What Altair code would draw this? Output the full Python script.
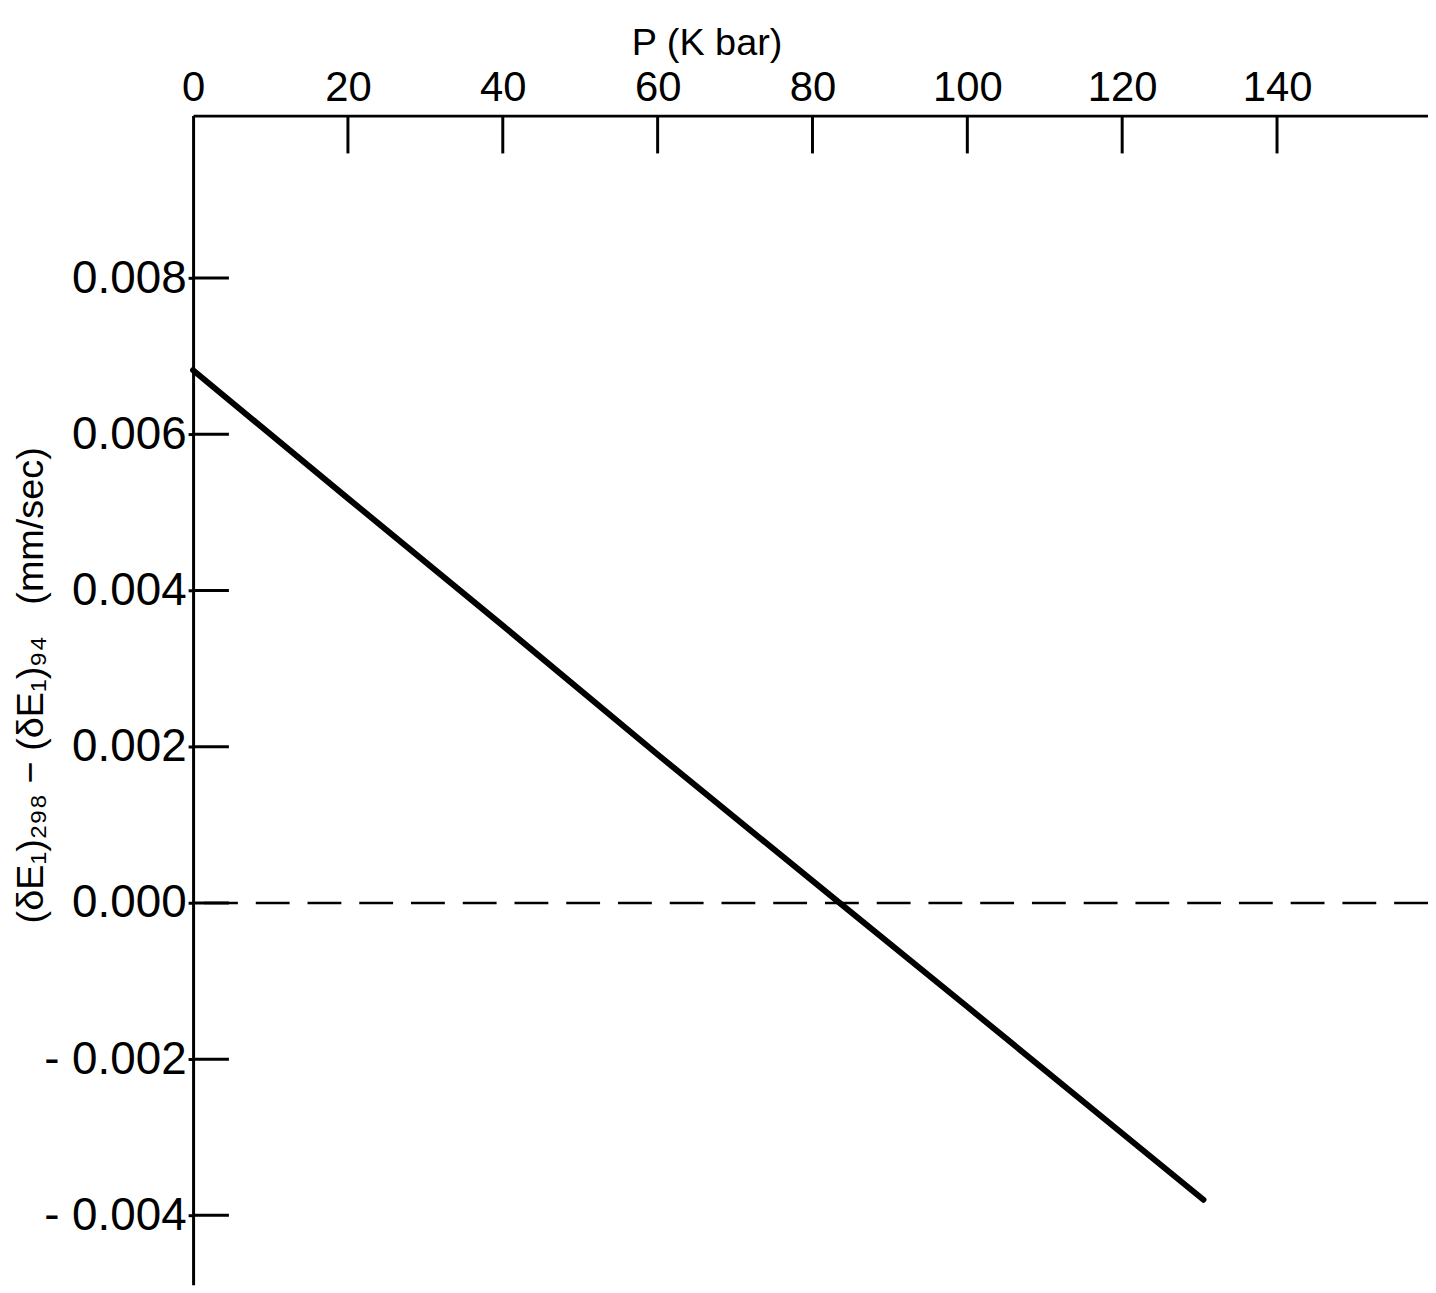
import altair as alt
import pandas as pd

# ---- data ----
pressure = [0, 20, 40, 60, 83.5, 100, 130.5]          # P (K bar)
delta = [0.00682, 0.00518, 0.00355, 0.00190, 0.0, -0.00133, -0.00380]  # mm/sec
x_ticks = [0, 20, 40, 60, 80, 100, 120, 140]
x_inner_ticks = [20, 40, 60, 80, 100, 120, 140]
y_ticks = [-0.004, -0.002, 0.0, 0.002, 0.004, 0.006, 0.008]
zero_ref = [0.0]

W, H = 1241, 1175
FONT = "Liberation Sans"

xscale = alt.Scale(domain=[0, 159.5], nice=False, zero=False)
yscale = alt.Scale(domain=[-0.00489, 0.01008], nice=False, zero=False)

line_df = pd.DataFrame({"P": pressure, "d": delta})

x_axis = alt.Axis(
    orient="top", values=x_ticks, tickSize=0, labelPadding=6,
    labelFontSize=42, labelFont=FONT, labelColor="black", labelFlush=False,
    domainColor="black", domainWidth=3, grid=False,
    title="P (K bar)", titleFont=FONT, titleFontSize=38, titleFontWeight="normal",
    titleColor="black", titleX=516, titleY=-72, titleBaseline="middle",
    titleAlign="center", labelOverlap=False,
)
y_axis = alt.Axis(
    orient="left", values=y_ticks, tickSize=5, tickWidth=3, tickColor="black",
    labelPadding=2, labelFontSize=46, labelFont=FONT, labelColor="black",
    labelExpr="datum.value < -1e-9 ? '- ' + format(-datum.value, '.3f') : format(datum.value, '.3f')",
    domainColor="black", domainWidth=3, grid=False, labelOverlap=False,
    labelFlush=False,
    title="(δE₁)₂₉₈ − (δE₁)₉₄\u00a0\u00a0\u00a0(mm/sec)", titleFont=FONT, titleFontSize=38,
    titleFontWeight="normal", titleColor="black", titleAngle=270,
    titleX=-162, titleY=572, titleAlign="center", titleBaseline="middle",
)

line = alt.Chart(line_df).mark_line(color="black", strokeWidth=6, strokeCap="round").encode(
    x=alt.X("P:Q", scale=xscale, axis=x_axis),
    y=alt.Y("d:Q", scale=yscale, axis=y_axis),
)

zero_line = alt.Chart(pd.DataFrame({"d": zero_ref})).mark_rule(
    color="black", strokeWidth=2.5, strokeDash=[34, 18]
).encode(y=alt.Y("d:Q", scale=yscale, axis=y_axis))

x_in = alt.Chart(pd.DataFrame({"P": x_inner_ticks})).mark_rule(
    color="black", strokeWidth=3
).encode(x=alt.X("P:Q", scale=xscale, axis=x_axis), y=alt.value(0), y2=alt.value(38))

y_in = alt.Chart(pd.DataFrame({"d": y_ticks})).mark_rule(
    color="black", strokeWidth=3
).encode(y=alt.Y("d:Q", scale=yscale, axis=y_axis), x=alt.value(0), x2=alt.value(36))

chart = alt.layer(line, zero_line, x_in, y_in).properties(
    width=W, height=H,
    padding={"left": 186, "top": 105, "right": 0, "bottom": 0},
    autosize=alt.AutoSizeParams(type="none"),
    background="white",
).configure_view(stroke=None)

chart.save("out.html", embed_options={"renderer": "svg", "actions": False})
